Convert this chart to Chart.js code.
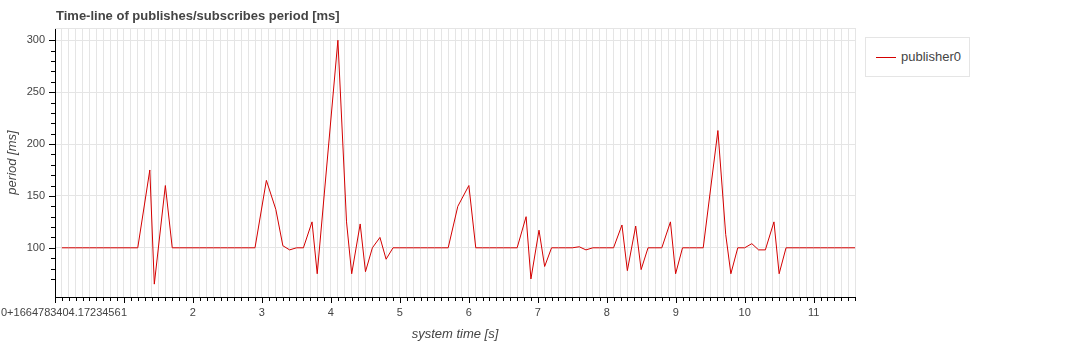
<!DOCTYPE html>
<html>
<head>
<meta charset="utf-8">
<script src="https://cdn.jsdelivr.net/npm/chart.js@4/dist/chart.umd.min.js"></script>
<style>
  body{margin:0;background:#fff;font-family:"Liberation Sans",Arial,sans-serif;}
  #wrap{position:relative;width:1075px;height:342px;}
  #title{position:absolute;left:56px;top:8px;font-size:13px;font-weight:bold;color:#444;white-space:nowrap;}
  #legend{position:absolute;left:865px;top:37px;width:105px;height:40px;border:1px solid #e5e5e5;background:#fff;box-sizing:border-box;}
  #legend .swatch{position:absolute;left:10px;top:19px;width:20px;height:1px;background:#d40000;}
  #legend .lbl{position:absolute;left:35px;top:11px;font-size:13px;color:#444;white-space:nowrap;}
</style>
</head>
<body>
<div id="wrap">
  <canvas id="chart" width="1075" height="342"></canvas>
  <div id="title">Time-line of publishes/subscribes period [ms]</div>
  <div id="legend"><div class="swatch"></div><div class="lbl">publisher0</div></div>
</div>
<script>
// system time [s] relative to 1664783404.1723456, and period [ms]
const times = [
  0.1, 0.2, 0.3, 0.4, 0.5, 0.6, 0.7, 0.8, 0.9, 1.0, 1.1, 1.2,
  1.375, 1.44, 1.6, 1.7,
  1.8, 1.9, 2.0, 2.1, 2.2, 2.3, 2.4, 2.5, 2.6, 2.7, 2.8, 2.9,
  3.065, 3.202, 3.304, 3.402, 3.502, 3.602, 3.727, 3.802,
  4.102, 4.227, 4.302, 4.425, 4.502, 4.602, 4.712, 4.801, 4.901,
  5.001, 5.101, 5.201, 5.301, 5.401, 5.501, 5.601, 5.701,
  5.841, 6.001, 6.101,
  6.201, 6.301, 6.401, 6.501, 6.601, 6.701,
  6.831, 6.901, 7.018, 7.1, 7.2, 7.3, 7.4, 7.5, 7.601, 7.699,
  7.799, 7.899, 7.999, 8.099,
  8.221, 8.299, 8.42, 8.499, 8.599, 8.699, 8.799,
  8.924, 8.999, 9.099, 9.199, 9.299, 9.399,
  9.612, 9.725, 9.8, 9.9, 10.0, 10.104, 10.202, 10.3, 10.425, 10.5,
  10.6, 10.7, 10.8, 10.9, 11.0, 11.1, 11.2, 11.3, 11.4, 11.5, 11.6
];
const periods = [
  100, 100, 100, 100, 100, 100, 100, 100, 100, 100, 100, 100,
  175, 65, 160, 100,
  100, 100, 100, 100, 100, 100, 100, 100, 100, 100, 100, 100,
  165, 137, 102, 98, 100, 100, 125, 75,
  300, 125, 75, 123, 77, 100, 110, 89, 100,
  100, 100, 100, 100, 100, 100, 100, 100,
  140, 160, 100,
  100, 100, 100, 100, 100, 100,
  130, 70, 117, 82, 100, 100, 100, 100, 101, 98,
  100, 100, 100, 100,
  122, 78, 121, 79, 100, 100, 100,
  125, 75, 100, 100, 100, 100,
  213, 113, 75, 100, 100, 104, 98, 98, 125, 75,
  100, 100, 100, 100, 100, 100, 100, 100, 100, 100, 100
];
const seriesName = "publisher0";
const timeOffsetLabel = "0+1664783404.1723456";
const xMin = 0, xMax = 11.6;
const yMin = 52.6, yMax = 311.8;

const isMult = (v, m) => Math.abs(v / m - Math.round(v / m)) < 1e-6;

// outline of the frame plus bokeh-style major/minor ticks
const framePlugin = {
  id: 'frame',
  beforeDatasetsDraw(c){
    const a = c.chartArea, ctx = c.ctx;
    ctx.save();
    ctx.strokeStyle = '#e5e5e5';
    ctx.lineWidth = 1;
    ctx.beginPath();
    ctx.moveTo(a.left, a.top + 0.5); ctx.lineTo(a.right + 0.5, a.top + 0.5);
    ctx.lineTo(a.right + 0.5, a.bottom);
    ctx.stroke();
    ctx.restore();
  },
  afterDraw(c){
    const ctx = c.ctx, x = c.scales.x, y = c.scales.y;
    ctx.save();
    ctx.strokeStyle = '#000';
    ctx.lineWidth = 1;
    ctx.beginPath();
    x.ticks.forEach(t => {
      const px = Math.round(x.getPixelForValue(t.value)) + 0.5;
      const len = isMult(t.value, 1) ? 6 : 4;
      ctx.moveTo(px, y.bottom); ctx.lineTo(px, y.bottom + len);
    });
    y.ticks.forEach(t => {
      const py = Math.round(y.getPixelForValue(t.value)) + 0.5;
      const len = isMult(t.value, 50) ? 6 : 4;
      ctx.moveTo(x.left, py); ctx.lineTo(x.left - len, py);
    });
    ctx.stroke();
    // offset label of the first x tick
    ctx.fillStyle = '#444';
    ctx.font = '11px "Liberation Sans", Arial, sans-serif';
    ctx.textAlign = 'left';
    ctx.textBaseline = 'middle';
    ctx.fillText(timeOffsetLabel, 1, 313);
    ctx.restore();
  }
};

new Chart(document.getElementById('chart'), {
  type: 'line',
  data: {
    datasets: [{
      label: seriesName,
      data: times.map((t, i) => ({x: t, y: periods[i]})),
      borderColor: '#d40000',
      borderWidth: 1,
      pointRadius: 0,
      tension: 0,
      fill: false
    }]
  },
  options: {
    responsive: false,
    animation: false,
    layout: {padding: {left: 0, right: 220, top: 28, bottom: 0}},
    plugins: {legend: {display: false}, title: {display: false}, tooltip: {enabled: false}},
    scales: {
      x: {
        type: 'linear', min: xMin, max: xMax,
        afterFit(s){ s.height = 45; },
        afterBuildTicks(s){ s.ticks = s.ticks.filter(t => isMult(t.value, 0.1)); },
        border: {color: '#000', width: 1},
        grid: {color: '#e5e5e5', lineWidth: 1, drawTicks: true, tickLength: 6, tickColor: 'rgba(0,0,0,0)'},
        ticks: {
          stepSize: 0.1, autoSkip: false, maxRotation: 0, padding: 3,
          color: '#444', font: {family: '"Liberation Sans", Arial, sans-serif', size: 11},
          callback: v => (isMult(v, 1) && Math.round(v) !== 0) ? String(Math.round(v)) : ''
        },
        title: {display: true, text: 'system time [s]', color: '#444',
          font: {family: '"Liberation Sans", Arial, sans-serif', size: 13, style: 'italic'}, padding: {top: 3, bottom: 0}}
      },
      y: {
        type: 'linear', min: yMin, max: yMax,
        afterFit(s){ s.width = 55; },
        afterBuildTicks(s){ s.ticks = s.ticks.filter(t => isMult(t.value, 10)); },
        border: {color: '#000', width: 1},
        grid: {
          color: ctx => isMult(ctx.tick.value, 50) ? '#e5e5e5' : 'rgba(0,0,0,0)',
          lineWidth: 1, drawTicks: true, tickLength: 6, tickColor: 'rgba(0,0,0,0)'
        },
        ticks: {
          stepSize: 10, autoSkip: false, padding: 4,
          color: '#444', font: {family: '"Liberation Sans", Arial, sans-serif', size: 11},
          callback: v => isMult(v, 50) ? String(Math.round(v)) : ''
        },
        title: {display: true, text: 'period [ms]', color: '#444',
          font: {family: '"Liberation Sans", Arial, sans-serif', size: 13, style: 'italic'}, padding: {top: 5, bottom: 0}}
      }
    }
  },
  plugins: [framePlugin]
});
</script>
</body>
</html>
